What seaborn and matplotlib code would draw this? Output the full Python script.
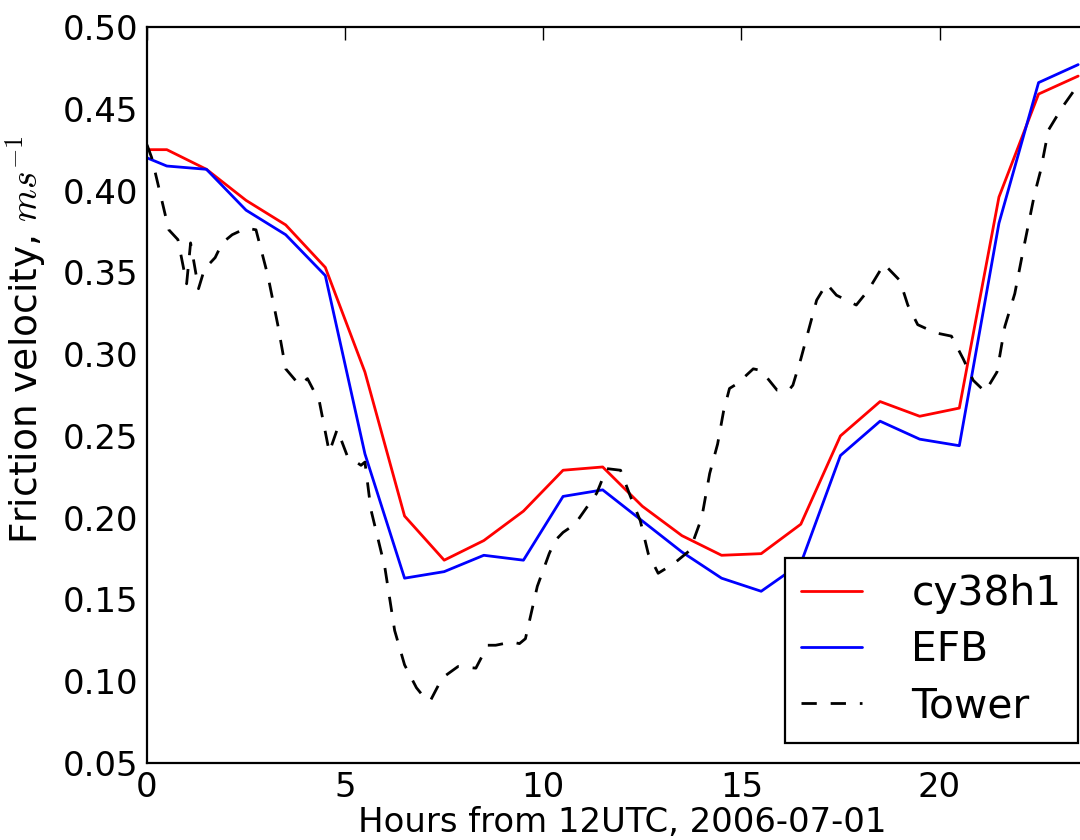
import numpy as np
import pandas as pd
import matplotlib
matplotlib.use('Agg')
import matplotlib.pyplot as plt
import seaborn as sns

# Model output, half-hourly means (hours from 12UTC)
model_hours = [0.0, 0.5, 1.5, 2.5, 3.5, 4.5, 5.5, 6.5, 7.5, 8.5, 9.5, 10.5, 11.5,
               12.5, 13.5, 14.5, 15.5, 16.5, 17.5, 18.5, 19.5, 20.5, 21.5, 22.5, 23.5]
cy38h1 = [0.425, 0.425, 0.413, 0.394, 0.379, 0.353, 0.289, 0.201, 0.174, 0.186, 0.204, 0.229, 0.231,
          0.207, 0.189, 0.177, 0.178, 0.196, 0.250, 0.271, 0.262, 0.267, 0.396, 0.459, 0.470]
efb = [0.420, 0.415, 0.413, 0.388, 0.373, 0.348, 0.239, 0.163, 0.167, 0.177, 0.174, 0.213, 0.217,
       0.198, 0.179, 0.163, 0.155, 0.172, 0.238, 0.259, 0.248, 0.244, 0.380, 0.466, 0.477]

# Tower observations
tower_hours = [0.0, 0.12, 0.55, 0.78, 1.0, 1.1, 1.3, 1.45, 1.72, 1.9, 2.15, 2.5, 2.75, 3.05, 3.3,
               3.5, 3.85, 4.05, 4.35, 4.6, 4.8, 5.05, 5.4, 5.5, 5.65, 6.0, 6.25, 6.5, 6.8, 7.0,
               7.15, 7.45, 7.85, 8.3, 8.6, 8.8, 9.2, 9.4, 9.55, 9.85, 10.15, 10.3, 10.5, 10.8,
               11.35, 11.6, 11.95, 12.2, 12.45, 12.65, 12.9, 13.3, 13.7, 14.0, 14.2, 14.4, 14.55,
               14.7, 14.9, 15.3, 15.5, 15.9, 16.2, 16.3, 16.5, 16.7, 16.9, 17.15, 17.4, 17.9,
               18.2, 18.6, 19.0, 19.2, 19.45, 19.9, 20.3, 20.6, 20.85, 21.15, 21.45, 21.65, 21.9,
               22.1, 22.4, 22.55, 22.75, 23.1, 23.45, 23.5]
tower = [0.428, 0.420, 0.376, 0.370, 0.343, 0.368, 0.340, 0.352, 0.359, 0.368, 0.373, 0.377, 0.376,
         0.348, 0.318, 0.291, 0.281, 0.285, 0.271, 0.240, 0.254, 0.238, 0.232, 0.234, 0.205, 0.170,
         0.131, 0.110, 0.096, 0.090, 0.088, 0.102, 0.109, 0.108, 0.122, 0.122, 0.124, 0.123, 0.126,
         0.158, 0.178, 0.186, 0.191, 0.196, 0.215, 0.230, 0.229, 0.213, 0.198, 0.178, 0.166, 0.172,
         0.180, 0.200, 0.227, 0.245, 0.265, 0.279, 0.282, 0.291, 0.290, 0.278, 0.278, 0.281, 0.297,
         0.315, 0.333, 0.343, 0.336, 0.330, 0.339, 0.355, 0.345, 0.330, 0.318, 0.313, 0.311, 0.297,
         0.284, 0.277, 0.289, 0.317, 0.337, 0.362, 0.398, 0.412, 0.437, 0.451, 0.463, 0.460]

sns.set_style('white')
plt.rcParams['font.family'] = ['DejaVu Sans']
plt.rcParams['mathtext.fontset'] = 'cm'
plt.rcParams['text.color'] = 'k'
plt.rcParams['axes.labelcolor'] = 'k'

fig = plt.figure(figsize=(10.8, 8.4), dpi=100)
ax = fig.add_axes([147 / 1080, 1 - 763 / 840, 951 / 1080, 736 / 840])

sns.lineplot(x=model_hours, y=cy38h1, color='#ff0000', lw=2, label='cy38h1', ax=ax)
sns.lineplot(x=model_hours, y=efb, color='#0000ff', lw=2, label='EFB', ax=ax)
sns.lineplot(x=tower_hours, y=tower, color='k', lw=2, linestyle=(0, (5.5, 5)), label='Tower', ax=ax)

ax.set_xlim(0, 24)
ax.set_ylim(0.05, 0.50)
ax.set_xticks([0, 5, 10, 15, 20])
ax.set_yticks(np.arange(0.05, 0.501, 0.05))
ax.set_yticklabels(['%.2f' % v for v in np.arange(0.05, 0.501, 0.05)])

for s in ax.spines.values():
    s.set_visible(True)
    s.set_color('k')
    s.set_linewidth(1.6)
ax.tick_params(direction='in', length=9, width=1, top=True, right=True,
               labelsize=24.4, pad=6, colors='k')

ax.set_xlabel('Hours from 12UTC, 2006-07-01', fontsize=24.4, labelpad=1)
ax.set_ylabel('Friction velocity, $ms^{-1}$', fontsize=27)
ax.yaxis.set_label_coords(-0.104, 0.575)

leg = ax.legend(loc='lower right', fontsize=29.3, fancybox=False, framealpha=1,
                edgecolor='k', handlelength=1.5, handletextpad=1.2, labelspacing=0.4,
                borderpad=0.4)
leg.get_frame().set_linewidth(1.6)
for t in leg.get_texts():
    t.set_color('k')

fig.savefig('out.png', dpi=100)
